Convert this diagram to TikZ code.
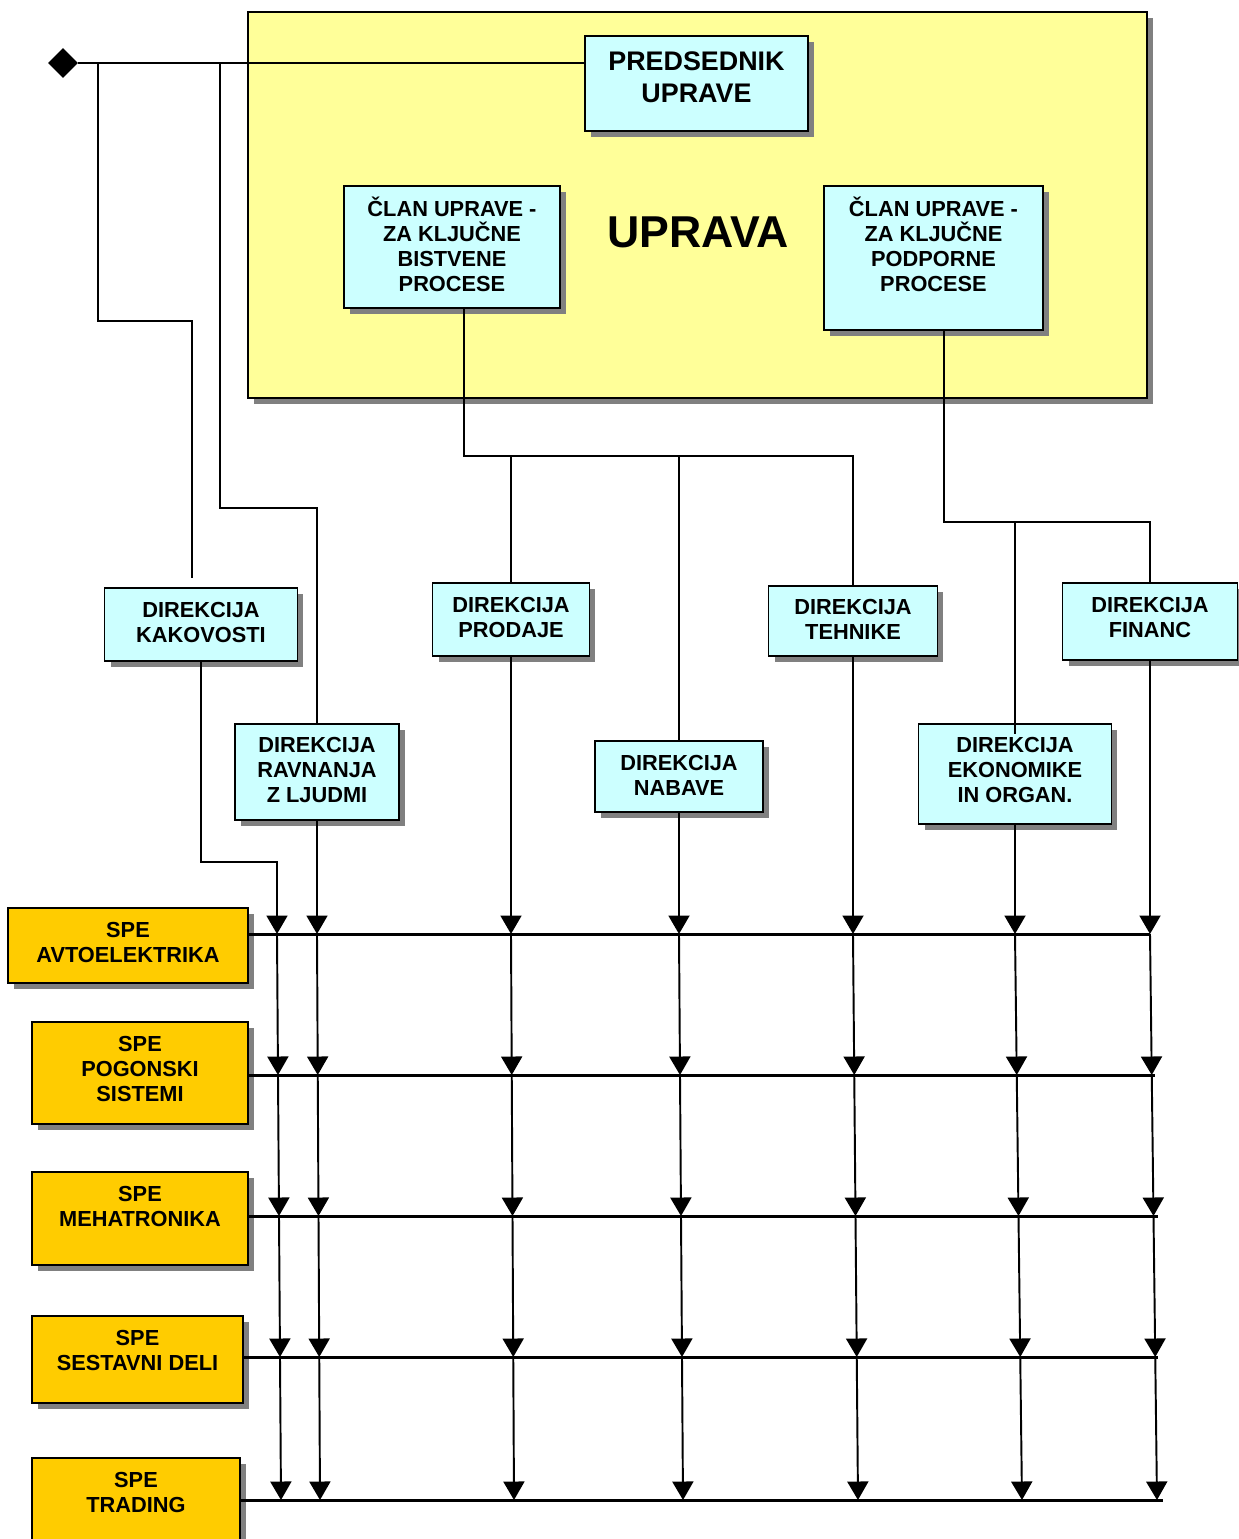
\documentclass[tikz,border=0pt]{standalone}
\usepackage{fontspec}
\setmainfont{Liberation Sans}
\usetikzlibrary{arrows.meta,positioning,shapes.geometric,shadows}
\definecolor{boardYellow}{RGB}{255,255,153}
\definecolor{memberCyan}{RGB}{204,255,255}
\definecolor{speOrange}{RGB}{255,204,0}
\definecolor{shadowGray}{RGB}{128,128,128}

\begin{document}
\begin{tikzpicture}[x=0.02cm,y=-0.02cm,
  box/.style={draw,line width=1pt,inner sep=0pt,
              drop shadow={shadow xshift=0.12cm,shadow yshift=-0.12cm,
                           fill=shadowGray,opacity=1}},
  board/.style={box,fill=boardYellow},
  member/.style={box,fill=memberCyan},
  unit/.style={box,fill=speOrange},
  boxtext/.style={font=\fontsize{12.4}{14.2}\selectfont\bfseries,align=center,
                  inner sep=0pt},
  conn/.style={line width=1.1pt},
  arr/.style={conn,-{Triangle[length=0.37cm,width=0.42cm]}},
  bus/.style={line width=1.7pt}
]
\useasboundingbox (0,0) rectangle (1239,1539);
\clip (0,0) rectangle (1239,1539);

% Uprava
\node[board,minimum width=17.98cm,minimum height=7.72cm] (uprava) at (697.5,205) {};
\node[font=\fontsize{25.4}{30}\selectfont\bfseries,inner sep=0pt] (upravaT) at (698,232) {UPRAVA};

\node[member,minimum width=4.46cm,minimum height=1.9cm] (pres) at (696.5,83.5) {};
\node[boxtext,font=\fontsize{15.3}{18.1}\selectfont\bfseries,below=0.32cm of pres.north]
  (presT) {PREDSEDNIK\\UPRAVE};

\node[member,minimum width=4.32cm,minimum height=2.44cm] (clanB) at (452,247) {};
\node[boxtext,below=0.23cm of clanB.north] (clanBT) {ČLAN UPRAVE -\\ZA KLJUČNE\\BISTVENE\\PROCESE};
\node[member,minimum width=4.38cm,minimum height=2.88cm] (clanP) at (933.5,258) {};
\node[boxtext,below=0.23cm of clanP.north] (clanPT) {ČLAN UPRAVE -\\ZA KLJUČNE\\PODPORNE\\PROCESE};

% Direkcije
\node[member,minimum width=3.86cm,minimum height=1.46cm] (kak) at (201,624.5) {};
\node[boxtext,below=0.29cm of kak.north] (kakT) {DIREKCIJA\\KAKOVOSTI};
\node[member,minimum width=3.28cm,minimum height=1.92cm] (ravn) at (317,772) {};
\node[boxtext,below=0.27cm of ravn.north] (ravnT) {DIREKCIJA\\RAVNANJA\\Z LJUDMI};
\node[member,minimum width=3.14cm,minimum height=1.46cm] (prod) at (511,619.5) {};
\node[boxtext,below=0.29cm of prod.north] (prodT) {DIREKCIJA\\PRODAJE};
\node[member,minimum width=3.36cm,minimum height=1.42cm] (nab) at (679,776.5) {};
\node[boxtext,below=0.29cm of nab.north] (nabT) {DIREKCIJA\\NABAVE};
\node[member,minimum width=3.38cm,minimum height=1.4cm] (teh) at (853,621) {};
\node[boxtext,below=0.28cm of teh.north] (tehT) {DIREKCIJA\\TEHNIKE};
\node[member,minimum width=3.86cm,minimum height=2.0cm] (ekon) at (1015,774) {};
\node[boxtext,below=0.27cm of ekon.north] (ekonT) {DIREKCIJA\\EKONOMIKE\\IN ORGAN.};
\node[member,minimum width=3.5cm,minimum height=1.54cm] (fin) at (1150,621.5) {};
\node[boxtext,below=0.29cm of fin.north] (finT) {DIREKCIJA\\FINANC};

% SPE
\node[unit,minimum width=4.8cm,minimum height=1.5cm] (avto) at (128,945.5) {};
\node[boxtext,below=0.29cm of avto.north] (avtoT) {SPE\\AVTOELEKTRIKA};
\node[unit,minimum width=4.32cm,minimum height=2.04cm] (pog) at (140,1073) {};
\node[boxtext,below=0.29cm of pog.north] (pogT) {SPE\\POGONSKI\\SISTEMI};
\node[unit,minimum width=4.32cm,minimum height=1.86cm] (meh) at (140,1218.5) {};
\node[boxtext,below=0.29cm of meh.north] (mehT) {SPE\\MEHATRONIKA};
\node[unit,minimum width=4.22cm,minimum height=1.74cm] (sest) at (137.5,1359.5) {};
\node[boxtext,below=0.29cm of sest.north] (sestT) {SPE\\SESTAVNI DELI};
\node[unit,minimum width=4.16cm,minimum height=2.04cm] (trad) at (136,1509) {};
\node[boxtext,below=0.29cm of trad.north] (tradT) {SPE\\TRADING};

% Lines from the top
\node[diamond,fill,minimum width=0.6cm,minimum height=0.6cm,inner sep=0pt] (dia) at (63,63) {};
\coordinate (kakDrop) at (98,63);
\coordinate (ravnDrop) at (220,63);
\coordinate (kakIn) at (192,578);
\coordinate (bJ) at (464,456);
\coordinate (pJ) at (944,522);

\draw[conn] (dia.east) -- (dia.east -| pres.west);
\draw[conn] (kakDrop) -- ++(0,258) -| (kakIn);
\draw[conn] (ravnDrop) -- ++(0,445) -| (ravn.north);
\draw[conn] (bJ |- clanB.south) -- (bJ) -| (teh.north);
\draw[conn] (prod.north |- bJ) -- (prod.north);
\draw[conn] (nab.north |- bJ) -- (nab.north);
\draw[conn] (pJ |- clanP.south) -- (pJ) -| (fin.north);
\draw[conn] (ekon.north |- pJ) -- ([yshift=-0.22cm]ekon.north);

% Matrix grid
\foreach \y/\e [count=\i] in {934/1150,1075/1155,1216/1158,1357/1158,1500/1163} {
  \coordinate (r\i-end) at (\e,\y);
  \foreach \xa/\xb [count=\j] in {277/281,317/320,511/514,679/683,853/858,1015/1022,1150/1157} {
    \pgfmathsetmacro\xx{\xa+(\i-1)*(\xb-\xa)/4}
    \coordinate (r\i-\j) at (\xx,\y);
  }
}
\foreach \s [count=\i] in {avto,pog,meh,sest,trad}
  \draw[bus] (\s.east |- r\i-1) -- (r\i-end);

\draw[arr] (kak.south) -- ++(0,200) -| (r1-1);
\foreach \n [count=\j from 2] in {ravn,prod,nab,teh,ekon,fin}
  \draw[arr] (r1-\j |- \n.south) -- (r1-\j);

\foreach \i [evaluate=\i as \k using int(\i+1)] in {1,...,4}
  \foreach \j in {1,...,7}
    \draw[arr] (r\i-\j) -- (r\k-\j);

\end{tikzpicture}
\end{document}
